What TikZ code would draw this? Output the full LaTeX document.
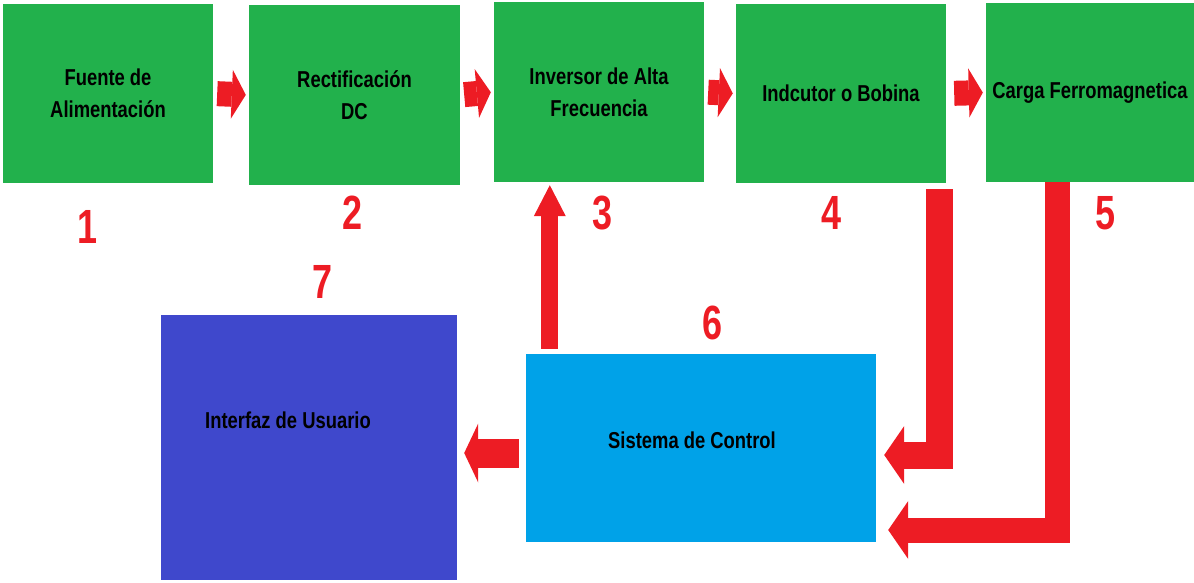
\documentclass[tikz,border=0pt]{standalone}
\usepackage{fontspec}
\newfontfamily\boxfont[FakeStretch=0.8]{Liberation Sans}
\newfontfamily\numfont[FakeStretch=0.75]{Liberation Sans}
\usepackage{tikz}
\usetikzlibrary{arrows.meta,positioning,calc}
\definecolor{boxgreen}{HTML}{22B14C}
\definecolor{arrowred}{HTML}{ED1C24}
\definecolor{ctrlblue}{HTML}{00A2E8}
\definecolor{uiblue}{HTML}{3F48CC}

\begin{document}
\begin{tikzpicture}[
    x=1pt, y=-1pt,
    block/.style={rectangle, fill=boxgreen, inner sep=0pt,
                minimum width=210pt, minimum height=179pt,
                align=center, font=\boxfont\bfseries\fontsize{23}{32}\selectfont},
    label/.style={inner sep=0pt, font=\boxfont\bfseries\fontsize{23}{32}\selectfont},
    num/.style={inner sep=0pt, text=arrowred, font=\numfont\bfseries\fontsize{48}{48}\selectfont},
    flow/.style={draw=arrowred, line width=25pt, shorten <=4pt, shorten >=3pt,
                -{Triangle[length=14pt, width=49pt, line width=0pt]}},
    feedback/.style={draw=arrowred, line width=27pt, line join=miter,
                -{Triangle[length=20pt, width=58pt, line width=0pt]}}
]
\useasboundingbox (0,0) rectangle (1194,582);

\node[block] (fuente) at (108,93.5) {Fuente de\\Alimentación};
\node[block, minimum width=211pt, minimum height=180pt] (rectif) at (354.5,95) {Rectificación\\DC};
\node[block, minimum height=180pt] (inversor) at (599,92) {Inversor de Alta\\Frecuencia};
\node[block] (bobina) at (841,93.5) {Indcutor o Bobina};
\node[block, minimum width=208pt] (carga) at (1090,92.5) {Carga Ferromagnetica};

\node[rectangle, fill=ctrlblue, minimum width=350pt, minimum height=188pt] (control) at (701,448) {};
\node[rectangle, fill=uiblue, minimum width=296pt, minimum height=265pt] (interfaz) at (309,447.5) {};
\node[label] (ctrltext) at (692,440) {Sistema de Control};
\node[label] (uitext) at (288,420) {Interfaz de Usuario};

% numeros de bloque
\node[num] (n1) at (88,227) {1};
\node[num] (n2) at (353,213) {2};
\node[num] (n3) at (603,213) {3};
\node[num] (n4) at (832,213) {4};
\node[num] (n5) at (1105,213) {5};
\node[num] (n6) at (713,323) {6};
\node[num] (n7) at (323,282) {7};

% cadena de potencia
\draw[flow] (fuente.east) -- (rectif.west);
\draw[flow] (rectif.east) -- (inversor.west);
\draw[flow] (inversor.east) -- (bobina.west);
\draw[flow, shorten <=8pt] (bobina.east) -- (carga.west);

% lazo de control
\draw[feedback, line width=17pt, shorten <=5pt, shorten >=3pt,
      -{Triangle[length=31pt, width=32pt, line width=0pt]}]
    ([xshift=24pt]control.north west) -- ([xshift=24pt]control.north west |- inversor.south);
\draw[feedback, shorten <=6pt, shorten >=8pt]
    ([xshift=-7pt]bobina.south east) |- ([yshift=-7pt]control.east);
\draw[feedback, line width=25pt, shorten >=12pt]
    ([xshift=72pt]carga.south west) |- ([yshift=-82pt]control.east);
\draw[feedback, line width=29pt, shorten <=7pt, shorten >=7pt,
      -{Triangle[length=14pt, width=59pt, line width=0pt]}]
    ([yshift=-5pt]control.west) -- ([yshift=-5pt]control.west -| interfaz.east);
\end{tikzpicture}
\end{document}
